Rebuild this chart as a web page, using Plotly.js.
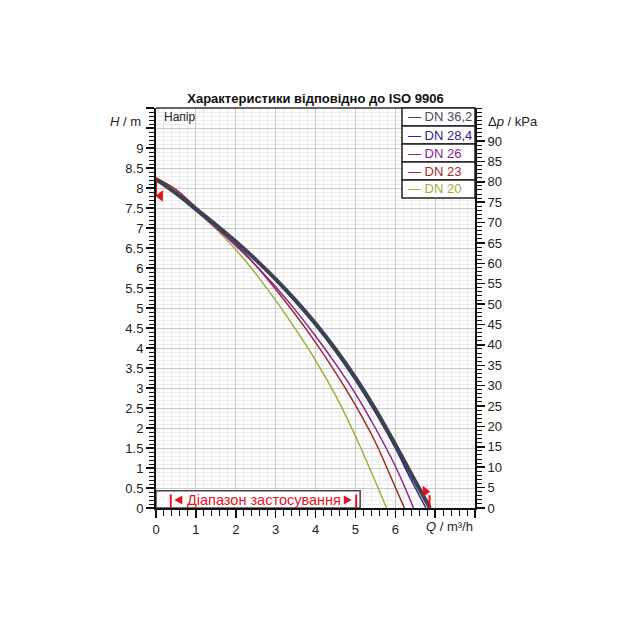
<!DOCTYPE html>
<html>
<head>
<meta charset="utf-8">
<script src="https://cdn.plot.ly/plotly-3.0.1.min.js"></script>
<style>html,body{margin:0;padding:0;background:#fff;}#chart{width:640px;height:640px;}</style>
</head>
<body>
<div id="chart"></div>
<script>
// Series: flow Q (m³/h) and head H (m)
const seriesNames = ['DN 36,2', 'DN 28,4', 'DN 26', 'DN 23', 'DN 20'];
const qDN362 = [0, 0.5, 1, 1.5, 2, 2.5, 3, 3.5, 4, 4.5, 5, 5.5, 6, 6.5, 6.87];
const hDN362 = [8.22, 7.87, 7.48, 7.08, 6.66, 6.21, 5.72, 5.19, 4.61, 3.97, 3.26, 2.47, 1.59, 0.67, 0];
const qDN284 = [0, 0.5, 1, 1.5, 2, 2.5, 3, 3.5, 4, 4.5, 5, 5.5, 6, 6.4, 6.77];
const hDN284 = [8.22, 7.87, 7.47, 7.07, 6.65, 6.19, 5.69, 5.15, 4.56, 3.91, 3.19, 2.39, 1.5, 0.7, 0];
const qDN26 = [0, 0.5, 1, 1.5, 2, 2.5, 3, 3.5, 4, 4.5, 5, 5.5, 6, 6.46];
const hDN26 = [8.2, 7.84, 7.43, 7.01, 6.56, 6.07, 5.53, 4.94, 4.3, 3.61, 2.86, 2.0, 1.05, 0];
const qDN23 = [0, 0.5, 1, 1.5, 2, 2.5, 3, 3.5, 4, 4.5, 5, 5.5, 5.9, 6.23];
const hDN23 = [8.25, 7.96, 7.52, 7.07, 6.6, 6.07, 5.47, 4.83, 4.14, 3.39, 2.57, 1.65, 0.75, 0];
const qDN20 = [0, 0.5, 1, 1.5, 2, 2.5, 3, 3.5, 4, 4.5, 5, 5.45, 5.78];
const hDN20 = [8.22, 7.86, 7.44, 6.98, 6.46, 5.86, 5.19, 4.47, 3.69, 2.82, 1.8, 0.78, 0];

// Application range markers
const rangeQmin = 0.37, rangeQmax = 5.02;
const rangeArrowQ = [0.56, 4.81];
const rangeLabelQ = 2.72;
const rangeBoxQ = 5.12, rangeBoxH = 0.43;
const maxHeadMark = 7.8, maxHeadTop = 8.25;
const maxFlowMark = 6.86, maxFlowMarkH = 0.41;

// Tick labels
const xTickVals = [0, 1, 2, 3, 4, 5, 6, 7, 8];
const xTickText = ['0', '1', '2', '3', '4', '5', '6', '', ''];
const yTickVals = [0, 0.5, 1, 1.5, 2, 2.5, 3, 3.5, 4, 4.5, 5, 5.5, 6, 6.5, 7, 7.5, 8, 8.5, 9, 9.5, 10];
const yTickText = ['0', '0.5', '1', '1.5', '2', '2.5', '3', '3.5', '4', '4.5', '5', '5.5', '6', '6.5', '7', '7.5', '8', '8.5', '9', '', ''];
const kpaTickVals = [0, 5, 10, 15, 20, 25, 30, 35, 40, 45, 50, 55, 60, 65, 70, 75, 80, 85, 90];
const kpaPerM = 9.81;

const lineColors = ['#3b4250', '#2c2392', '#8c2295', '#a0292a', '#9cb033'];
const textColors = ['#454a55', '#2c2392', '#8c2295', '#a0292a', '#9cb033'];
const RED = '#e8101c';
const FONT = 'Liberation Sans, Arial, sans-serif';

const mk = (q, h, i, w) => ({
  x: q, y: h, type: 'scatter', mode: 'lines', name: seriesNames[i],
  line: {color: lineColors[i], width: w, shape: 'spline', smoothing: 1},
  showlegend: false, hoverinfo: 'skip'
});

const traces = [
  mk(qDN20, hDN20, 4, 1.5),
  mk(qDN23, hDN23, 3, 1.5),
  mk(qDN26, hDN26, 2, 1.5),
  mk(qDN284, hDN284, 1, 1.5),
  mk(qDN362, hDN362, 0, 4),
  {x: [0.11], y: [maxHeadMark], type: 'scatter', mode: 'markers', cliponaxis: false,
   marker: {symbol: 'triangle-left', size: 10, color: RED}, showlegend: false, hoverinfo: 'skip'},
  {x: [maxFlowMark - 0.11], y: [maxFlowMarkH], type: 'scatter', mode: 'markers', cliponaxis: false,
   marker: {symbol: 'triangle-right', size: 10, color: RED}, showlegend: false, hoverinfo: 'skip'},
  {x: [0], y: [0], yaxis: 'y2', type: 'scatter', mode: 'markers', marker: {opacity: 0}, showlegend: false, hoverinfo: 'skip'}
];

const shapes = [
  {type: 'line', xref: 'paper', yref: 'paper', x0: 0, x1: 1, y0: 1, y1: 1, line: {color: '#333', width: 1.5}, layer: 'above'},
  {type: 'rect', xref: 'x', yref: 'y', x0: 0, x1: rangeBoxQ, y0: 0, y1: rangeBoxH, fillcolor: '#ffffff', line: {color: '#444', width: 1.5}, layer: 'above'},
  {type: 'line', xref: 'x', yref: 'y', x0: rangeQmin, x1: rangeQmin, y0: 0, y1: 0.34, line: {color: RED, width: 2}, layer: 'above'},
  {type: 'line', xref: 'x', yref: 'y', x0: rangeQmax, x1: rangeQmax, y0: 0, y1: 0.34, line: {color: RED, width: 2}, layer: 'above'},
  {type: 'line', xref: 'x', yref: 'y', x0: maxFlowMark, x1: maxFlowMark, y0: 0, y1: 0.32, line: {color: RED, width: 2}, layer: 'above'},
  {type: 'line', xref: 'x', yref: 'y', x0: 0, x1: 0, y0: maxHeadMark, y1: maxHeadTop, line: {color: RED, width: 2}, layer: 'above'},
  // range arrows (drawn as paths in data space)
  {type: 'path', xref: 'x', yref: 'y', layer: 'above', fillcolor: RED, line: {color: RED, width: 0},
   path: `M ${rangeArrowQ[0] - 0.1} 0.2 L ${rangeArrowQ[0] + 0.1} 0.31 L ${rangeArrowQ[0] + 0.1} 0.09 Z`},
  {type: 'path', xref: 'x', yref: 'y', layer: 'above', fillcolor: RED, line: {color: RED, width: 0},
   path: `M ${rangeArrowQ[1] + 0.1} 0.2 L ${rangeArrowQ[1] - 0.1} 0.31 L ${rangeArrowQ[1] - 0.1} 0.09 Z`}
];

const annotations = [
  {xref: 'paper', yref: 'paper', x: 0.018, y: 0.978, xanchor: 'left', yanchor: 'middle', text: 'Напір', showarrow: false, font: {family: FONT, size: 12, color: '#222'}},
  {xref: 'paper', yref: 'y', x: -0.04, y: 9.67, xanchor: 'right', yanchor: 'middle', text: '<i>H</i> / m', showarrow: false, font: {family: FONT, size: 13, color: '#222'}},
  {xref: 'paper', yref: 'y', x: 1.036, y: 9.67, xanchor: 'left', yanchor: 'middle', text: 'Δ<i>p</i> / kPa', showarrow: false, font: {family: FONT, size: 13, color: '#222'}},
  {xref: 'paper', yref: 'paper', x: 1.0, y: -0.045, xanchor: 'right', yanchor: 'middle', text: '<i>Q</i> / m³/h', showarrow: false, font: {family: FONT, size: 13, color: '#222'}},
  {xref: 'x', yref: 'y', x: rangeLabelQ, y: 0.2, xanchor: 'center', yanchor: 'middle', text: 'Діапазон застосування', showarrow: false, font: {family: FONT, size: 14.5, color: RED}}
];

// custom legend box
const legX0 = (402 - 156) / 319, rowH = 18 / 400;
for (let i = 0; i < seriesNames.length; i++) {
  const top = 1 - i * rowH, bot = 1 - (i + 1) * rowH;
  shapes.push({type: 'rect', xref: 'paper', yref: 'paper', x0: legX0, x1: 1, y0: bot, y1: top,
    fillcolor: '#ffffff', line: {color: '#222', width: 1.5}, layer: 'above'});
  annotations.push({xref: 'paper', yref: 'paper', x: legX0 + 0.012, y: (top + bot) / 2, xanchor: 'left', yanchor: 'middle',
    text: '— ' + seriesNames[i], showarrow: false, font: {family: FONT, size: 13, color: textColors[i]}});
}

const layout = {
  width: 640, height: 640,
  margin: {l: 156, r: 165, t: 108, b: 132},
  paper_bgcolor: '#fff', plot_bgcolor: '#fff',
  font: {family: FONT, size: 13, color: '#222'},
  title: {text: '<b>Характеристики відповідно до ISO 9906</b>', font: {family: FONT, size: 13, color: '#111'},
          x: 0.493, xanchor: 'center', y: 1 - 98 / 640, yanchor: 'middle'},
  showlegend: false,
  xaxis: {
    range: [0, 8], tickvals: xTickVals, ticktext: xTickText,
    ticks: 'outside', ticklen: 8, tickwidth: 1.5, tickcolor: '#111',
    showgrid: true, gridcolor: '#c9c9c9', gridwidth: 1,
    showline: true, linecolor: '#111', linewidth: 2, zeroline: false,
    minor: {dtick: 0.2, ticks: 'outside', ticklen: 6, tickwidth: 1, tickcolor: '#111', showgrid: true, gridcolor: '#ebebeb', gridwidth: 1},
    tickfont: {family: FONT, size: 13, color: '#222'}, fixedrange: true
  },
  yaxis: {
    range: [0, 10], tickvals: yTickVals, ticktext: yTickText,
    ticks: 'outside', ticklen: 8, tickwidth: 1.5, tickcolor: '#111',
    showgrid: true, gridcolor: '#c9c9c9', gridwidth: 1,
    showline: true, linecolor: '#111', linewidth: 2, zeroline: false,
    minor: {dtick: 0.1, ticks: 'outside', ticklen: 5, tickwidth: 1, tickcolor: '#111', showgrid: true, gridcolor: '#ebebeb', gridwidth: 1},
    tickfont: {family: FONT, size: 13, color: '#222'}, fixedrange: true
  },
  yaxis2: {
    overlaying: 'y', side: 'right', range: [0, 10 * kpaPerM], tickvals: kpaTickVals,
    ticks: 'outside', ticklen: 8, tickwidth: 1.5, tickcolor: '#111',
    showgrid: false, showline: true, linecolor: '#111', linewidth: 2, zeroline: false,
    minor: {dtick: 1, ticks: 'outside', ticklen: 5, tickwidth: 1, tickcolor: '#111', showgrid: false},
    tickfont: {family: FONT, size: 13, color: '#222'}, fixedrange: true
  },
  shapes: shapes,
  annotations: annotations
};

Plotly.newPlot('chart', traces, layout, {staticPlot: true, displayModeBar: false});
</script>
</body>
</html>
